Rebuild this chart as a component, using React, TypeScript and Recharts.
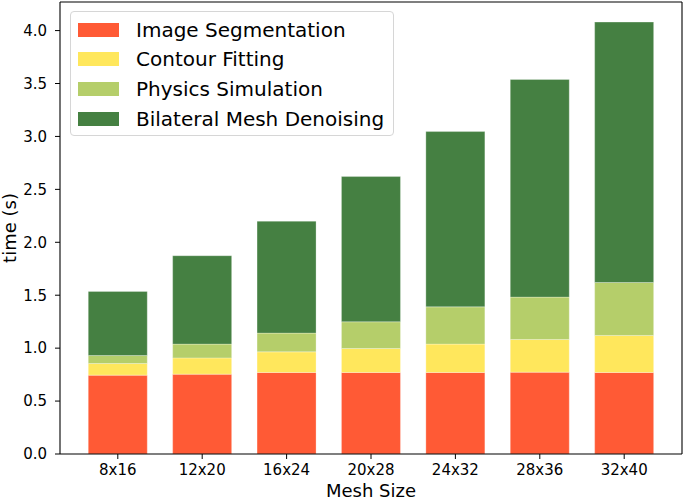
import { BarChart, Bar, XAxis, YAxis } from 'recharts'

const meshSizes = ['8x16', '12x20', '16x24', '20x28', '24x32', '28x36', '32x40']
const segmentation = [0.745, 0.754, 0.77, 0.77, 0.77, 0.773, 0.77]
const contourFitting = [0.11, 0.154, 0.195, 0.227, 0.268, 0.309, 0.35]
const physicsSim = [0.075, 0.13, 0.177, 0.252, 0.352, 0.4, 0.5]
const denoising = [0.606, 0.835, 1.057, 1.372, 1.656, 2.056, 2.46]
const yTicks = [0, 0.5, 1.0, 1.5, 2.0, 2.5, 3.0, 3.5, 4.0]

const series = [
  { key: 'seg', name: 'Image Segmentation', color: '#ff5a35' },
  { key: 'contour', name: 'Contour Fitting', color: '#ffe75c' },
  { key: 'physics', name: 'Physics Simulation', color: '#b5ce6a' },
  { key: 'denoise', name: 'Bilateral Mesh Denoising', color: '#458042' },
]

const data = meshSizes.map((m, i) => ({
  mesh: m,
  seg: segmentation[i],
  contour: contourFitting[i],
  physics: physicsSim[i],
  denoise: denoising[i],
}))

const font = 'DejaVu Sans, sans-serif'

// legend drawn as an overlay so it doesn't eat into the plot area
function LegendBox() {
  return (
    <div
      style={{
        position: 'absolute',
        left: 70,
        top: 11,
        width: 324,
        height: 125,
        border: '1px solid #d6d6d6',
        borderRadius: 4,
        background: 'rgba(255,255,255,0.8)',
        fontFamily: font,
        fontSize: 20,
        color: '#000',
        boxSizing: 'border-box',
        paddingTop: 3,
      }}
    >
      {series.map((s) => (
        <div key={s.key} style={{ display: 'flex', alignItems: 'center', height: 29.6 }}>
          <span
            style={{ display: 'inline-block', width: 41, height: 14, background: s.color, marginLeft: 7, marginRight: 17 }}
          />
          <span>{s.name}</span>
        </div>
      ))}
    </div>
  )
}

export default function App() {
  return (
    <div style={{ position: 'fixed', left: 0, top: 0, width: 685, height: 501, background: '#fff' }}>
      <BarChart
        width={685}
        height={501}
        data={data}
        margin={{ top: 1, right: 2, left: 0, bottom: 0 }}
        barCategoryGap="15%"
      >
        <XAxis
          dataKey="mesh"
          height={47}
          padding={{ left: 15.6, right: 15.6 }}
          tickSize={5}
          tickMargin={5}
          tick={{ fill: '#000', fontSize: 15, fontFamily: font }}
          axisLine={{ stroke: '#000', strokeWidth: 1.1 }}
          tickLine={{ stroke: '#000' }}
          label={{ value: 'Mesh Size', position: 'insideBottom', offset: 4, fill: '#000', fontSize: 18, fontFamily: font }}
        />
        <XAxis
          xAxisId="top"
          dataKey="mesh"
          orientation="top"
          height={1}
          tick={false}
          tickLine={false}
          axisLine={{ stroke: '#000', strokeWidth: 1.1 }}
        />
        <YAxis
          width={60}
          domain={[0, 4.27]}
          ticks={yTicks}
          allowDataOverflow
          tickFormatter={(v: number) => v.toFixed(1)}
          tickSize={5}
          tickMargin={8}
          tick={{ fill: '#000', fontSize: 15, fontFamily: font }}
          axisLine={{ stroke: '#000', strokeWidth: 1.1 }}
          tickLine={{ stroke: '#000' }}
          label={{
            value: 'time (s)',
            angle: -90,
            position: 'insideLeft',
            offset: 10,
            fill: '#000',
            fontSize: 18,
            fontFamily: font,
            style: { textAnchor: 'middle' },
          }}
        />
        <YAxis
          yAxisId="right"
          orientation="right"
          width={1}
          tick={false}
          tickLine={false}
          axisLine={{ stroke: '#000', strokeWidth: 1.1 }}
        />
        {series.map((s) => (
          <Bar
            key={s.key}
            dataKey={s.key}
            name={s.name}
            stackId="t"
            fill={s.color}
            stroke="#ffffff"
            strokeOpacity={0.35}
            strokeWidth={0.8}
            isAnimationActive={false}
          />
        ))}
      </BarChart>
      <LegendBox />
    </div>
  )
}
